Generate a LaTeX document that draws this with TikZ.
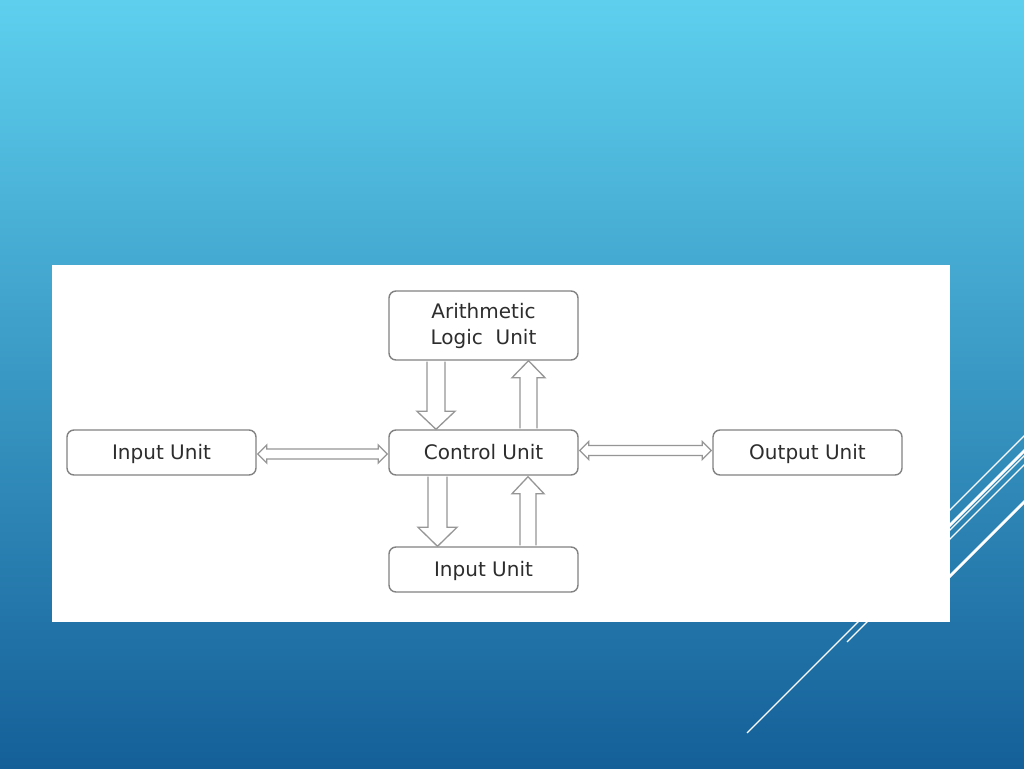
\documentclass[tikz,border=0pt]{standalone}
\usepackage{fontspec}
\setmainfont{DejaVu Sans}
\usetikzlibrary{calc}
\definecolor{bgtop}{RGB}{94,208,238}
\definecolor{bgmid}{RGB}{61,163,208}
\definecolor{bgbot}{RGB}{20,95,152}
\definecolor{boxline}{RGB}{130,130,130}
\definecolor{arrline}{RGB}{150,150,150}
\definecolor{txt}{RGB}{45,45,45}
\tikzset{
  unitbox/.style={draw=boxline, line width=1.4pt, rounded corners=7pt, fill=white,
    minimum width=189pt, minimum height=45pt, inner sep=0pt, text=txt,
    font=\fontsize{20}{26}\selectfont, align=center},
  onerow/.style={text height=14.6pt, text depth=0pt},
  hollowarrow/.style={draw=arrline, line width=1.3pt, fill=white, line join=miter},
  slidethin/.style={draw=white, line width=1.1pt},
  slidethick/.style={draw=white, line width=2.8pt}
}
\begin{document}
\begin{tikzpicture}[x=1pt,y=-1pt]
\useasboundingbox (0,0) rectangle (1024,768);
\shade[top color=bgtop, middle color=bgmid, bottom color=bgbot] (0,0) rectangle (1024,768);
\begin{scope}
\clip (0,0) rectangle (1024,768);
\draw[slidethin]  (930,530) -- (1060,400);
\draw[slidethick] (930,545) -- (1060,415);
\draw[slidethin]  (747,733) -- (1060,420);
\draw[slidethin]  (847,642) -- (1060,429);
\draw[slidethick] (930,596) -- (1060,466);
\end{scope}
\fill[white] (52,265) rectangle (950,622);

\node[unitbox, minimum height=69pt] (alu) at (483.5,325.5) {Arithmetic\\Logic~~Unit};
\node[unitbox, onerow] (cu)  at (483.5,452.5) {Control Unit};
\node[unitbox, onerow] (inb) at (483.5,569.5) {Input Unit};
\node[unitbox, onerow] (inl) at (161.5,452.5) {Input Unit};
\node[unitbox, onerow] (out) at (807.5,452.5) {Output Unit};

% ALU -> CU (down)
\draw[hollowarrow] ($(alu.south)+(-56.5,1)$) -- ($(cu.north)+(-56.5,-18)$) -- ($(cu.north)+(-66.5,-18)$)
  -- ($(cu.north)+(-47.5,0)$) -- ($(cu.north)+(-28.5,-18)$) -- ($(cu.north)+(-38.5,-18)$)
  -- ($(alu.south)+(-38.5,1)$);
% CU -> ALU (up)
\draw[hollowarrow] ($(cu.north)+(36.5,-1)$) -- ($(alu.south)+(36.5,17)$) -- ($(alu.south)+(28.5,17)$)
  -- ($(alu.south)+(45,0)$) -- ($(alu.south)+(61.5,17)$) -- ($(alu.south)+(53.5,17)$)
  -- ($(cu.north)+(53.5,-1)$);
% CU -> bottom Input (down)
\draw[hollowarrow] ($(cu.south)+(-55.5,1)$) -- ($(inb.north)+(-55.5,-19)$) -- ($(inb.north)+(-65.5,-19)$)
  -- ($(inb.north)+(-46,0)$) -- ($(inb.north)+(-26.5,-19)$) -- ($(inb.north)+(-36.5,-19)$)
  -- ($(cu.south)+(-36.5,1)$);
% bottom Input -> CU (up)
\draw[hollowarrow] ($(inb.north)+(36.5,-1)$) -- ($(cu.south)+(36.5,18)$) -- ($(cu.south)+(28.5,18)$)
  -- ($(cu.south)+(44.5,1)$) -- ($(cu.south)+(60.5,18)$) -- ($(cu.south)+(52.5,18)$)
  -- ($(inb.north)+(52.5,-1)$);
% left Input <-> CU
\draw[hollowarrow] ($(inl.east)+(1,1.5)$) -- ($(inl.east)+(10,-7.5)$) -- ($(inl.east)+(10,-3.5)$)
  -- ($(cu.west)+(-10,-3.5)$) -- ($(cu.west)+(-10,-7.5)$) -- ($(cu.west)+(-1,1.5)$)
  -- ($(cu.west)+(-10,10.5)$) -- ($(cu.west)+(-10,6.5)$) -- ($(inl.east)+(10,6.5)$)
  -- ($(inl.east)+(10,10.5)$) -- cycle;
% CU <-> Output
\draw[hollowarrow] ($(cu.east)+(1,-2)$) -- ($(cu.east)+(10,-11)$) -- ($(cu.east)+(10,-7)$)
  -- ($(out.west)+(-10,-7)$) -- ($(out.west)+(-10,-11)$) -- ($(out.west)+(-1,-2)$)
  -- ($(out.west)+(-10,7)$) -- ($(out.west)+(-10,3)$) -- ($(cu.east)+(10,3)$)
  -- ($(cu.east)+(10,7)$) -- cycle;
\end{tikzpicture}
\end{document}
